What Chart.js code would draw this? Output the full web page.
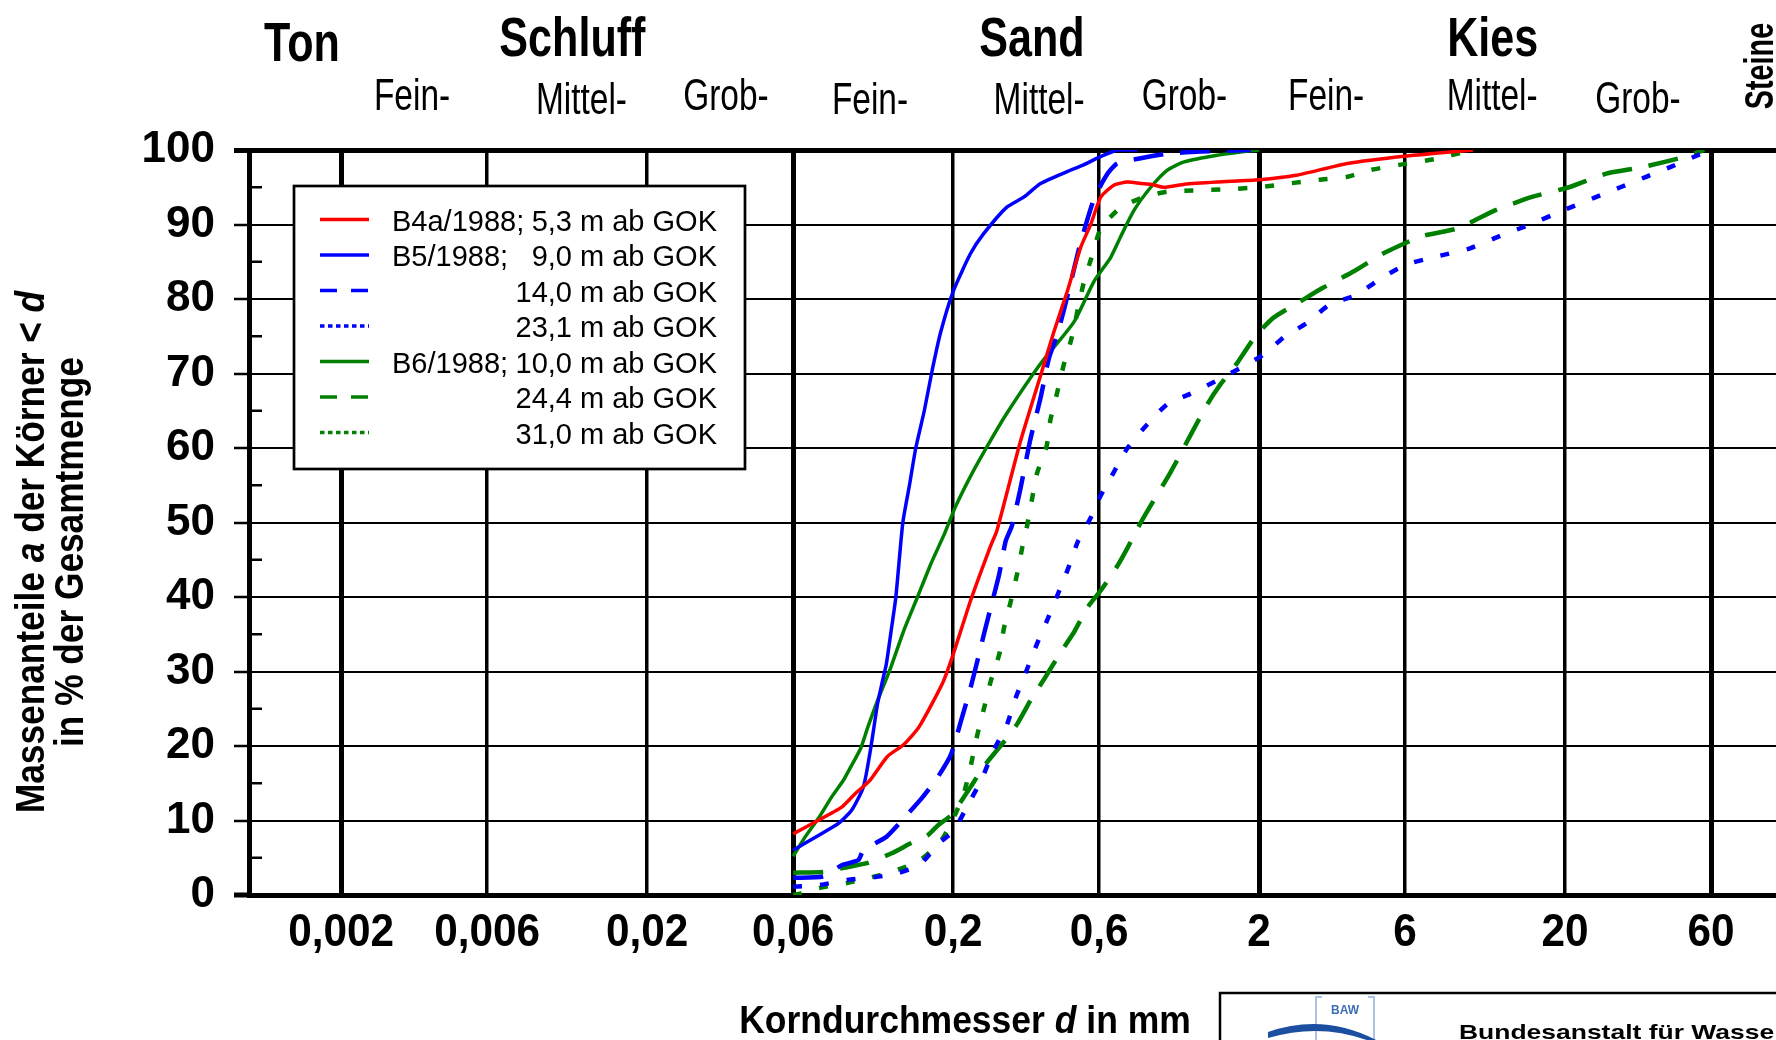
<!DOCTYPE html>
<html>
<head>
<meta charset="utf-8">
<script src="https://cdn.jsdelivr.net/npm/chart.js@4.4.1/dist/chart.umd.min.js"></script>
<style>
  html, body { margin: 0; padding: 0; background: #fff; overflow: hidden; }
  #wrap { width: 1800px; height: 1040px; }
</style>
</head>
<body>
<div id="wrap"><canvas id="c" width="1800" height="1040"></canvas></div>
<script>
// Körnungslinien: Korndurchmesser d [mm] / Massenanteil a [%]
var xTicks = [0.002, 0.006, 0.02, 0.06, 0.2, 0.6, 2, 6, 20, 60];
var yTicks = [0, 10, 20, 30, 40, 50, 60, 70, 80, 90, 100];

// B4a/1988; 5,3 m
var b4a53_d = [0.06, 0.0708, 0.0865, 0.0957, 0.107, 0.122, 0.138, 0.155, 0.185, 0.199, 0.228, 0.266, 0.278, 0.331, 0.386, 0.427, 0.472, 0.522, 0.563, 0.608, 0.672, 0.743, 0.822, 0.885, 0.979, 1.14, 1.46, 2.0, 2.64, 3.89, 6.07, 10.0];
var b4a53_p = [8.2, 9.8, 11.8, 13.6, 15.4, 18.6, 20.2, 22.6, 28.5, 32, 39.5, 47, 48.9, 60.7, 69.7, 75.6, 81, 86.9, 90, 93.7, 95.3, 95.7, 95.5, 95.4, 95.0, 95.4, 95.7, 96, 96.6, 98.2, 99.2, 100];
// B5/1988; 9,0 m
var b5_90_d = [0.06, 0.0726, 0.0844, 0.0933, 0.1018, 0.1076, 0.1132, 0.1175, 0.121, 0.126, 0.130, 0.137, 0.144, 0.151, 0.161, 0.171, 0.182, 0.2, 0.228, 0.251, 0.299, 0.341, 0.386, 0.472, 0.534, 0.591, 0.688, 0.8];
var b5_90_p = [6.0, 8.0, 9.6, 11.4, 14.5, 19.7, 25.6, 28.7, 31, 36, 40, 50, 55, 60, 65, 70.5, 75.5, 81, 86.1, 88.7, 92.3, 93.7, 95.5, 97.1, 98, 98.9, 100, 100];
// B5/1988; 14,0 m
var b5_140_d = [0.06, 0.0755, 0.0865, 0.098, 0.1018, 0.121, 0.136, 0.158, 0.178, 0.1965, 0.212, 0.228, 0.240, 0.2525, 0.2655, 0.283, 0.297, 0.311, 0.331, 0.357, 0.386, 0.411, 0.44, 0.478, 0.52, 0.578, 0.639, 0.688, 0.821, 1.003, 1.289, 1.88];
var b5_140_p = [2.3, 2.5, 4.0, 4.7, 6.0, 7.8, 10, 13, 15.8, 18.8, 23.3, 27.8, 31.4, 35.1, 38.6, 43.1, 47.5, 49.5, 54.3, 61, 66.7, 72, 75.5, 81.2, 87.3, 93.5, 96.8, 98.2, 98.9, 99.5, 99.8, 100];
// B5/1988; 23,1 m
var b5_231_d = [0.06, 0.072, 0.09, 0.125, 0.155, 0.18, 0.2, 0.223, 0.2476, 0.272, 0.2995, 0.3206, 0.348, 0.375, 0.405, 0.441, 0.475, 0.512, 0.561, 0.6, 0.671, 0.743, 0.863, 1.003, 1.196, 1.447, 1.73, 2.06, 2.43, 2.87, 3.41, 4.14, 4.89, 6.02, 7.61, 9.78, 12.48, 15.37, 19.45, 24.97, 30.3, 36.8, 44.7, 54.3, 57];
var b5_231_p = [1.1, 1.3, 2.0, 2.7, 4.0, 7.0, 8.5, 12, 15.5, 19.5, 22.8, 26.5, 30.2, 33.6, 36.8, 40.5, 43.8, 47.5, 50.5, 53.2, 56.8, 60, 63.2, 65.9, 67.3, 69, 70.7, 72.5, 75, 76.8, 79.3, 80.5, 82.5, 84.6, 85.7, 86.8, 88.6, 90, 91.8, 93.6, 95, 96.4, 97.8, 99.3, 99.6];
// B6/1988; 10,0 m
var b6_100_d = [0.06, 0.0657, 0.0726, 0.0803, 0.0876, 0.0926, 0.0998, 0.105, 0.113, 0.125, 0.138, 0.153, 0.169, 0.187, 0.204, 0.232, 0.265, 0.299, 0.386, 0.496, 0.578, 0.655, 0.706, 0.78, 0.885, 1.003, 1.138, 1.46, 1.88, 2.0];
var b6_100_p = [5.2, 7.8, 10.3, 13.2, 15.4, 17.2, 19.7, 22.4, 26, 30.5, 35.5, 40, 44.4, 48.4, 52.2, 56.8, 61, 64.6, 71.3, 76.9, 82.4, 85.6, 88.4, 91.9, 95, 97.3, 98.4, 99.3, 99.9, 100];
// B6/1988; 24,4 m
var b6_244_d = [0.06, 0.0755, 0.0865, 0.105, 0.126, 0.1447, 0.165, 0.179, 0.198, 0.228, 0.2525, 0.2935, 0.3245, 0.359, 0.397, 0.4497, 0.497, 0.55, 0.608, 0.689, 0.743, 0.821, 0.885, 1.029, 1.196, 1.356, 1.499, 1.695, 1.945, 2.23, 2.71, 3.20, 4.11, 5.14, 6.78, 8.94, 11.8, 15.6, 20.6, 27.1, 35.8, 47.3, 52.8, 57];
var b6_244_p = [3.0, 3.1, 3.6, 4.3, 5.6, 6.9, 8.0, 9.4, 10.8, 14.5, 17.3, 20.6, 23, 26.2, 29, 32.6, 35.3, 38.6, 40.9, 44.2, 46.6, 50, 52.3, 56.8, 61.8, 65.9, 68.6, 71.4, 75, 77.5, 79.6, 81.4, 83.8, 86.2, 88.4, 89.5, 91.9, 93.7, 95, 96.8, 97.7, 98.9, 99.5, 100];
// B6/1988; 31,0 m
var b6_310_d = [0.06, 0.0636, 0.072, 0.09, 0.104, 0.126, 0.155, 0.182, 0.2, 0.217, 0.228, 0.240, 0.2525, 0.2655, 0.283, 0.2935, 0.309, 0.3245, 0.337, 0.350, 0.362, 0.376, 0.404, 0.416, 0.438, 0.46, 0.486, 0.533, 0.566, 0.608, 0.707, 0.842, 1.003, 1.26, 1.53, 2.0, 2.5, 3.12, 3.89, 4.60, 5.74, 7.79, 9.46, 10];
var b6_310_p = [0.0, 0.2, 0.9, 1.6, 2.2, 3.1, 4.6, 7.2, 10.2, 13.7, 17.2, 21.5, 25.1, 28.7, 32.3, 35.9, 39.5, 43.3, 46.8, 49.8, 53.1, 56.6, 60.2, 63.8, 67.5, 71.2, 74.5, 82, 85.5, 89.5, 92.3, 93.7, 94.4, 94.6, 94.7, 95, 95.5, 96, 96.4, 97.3, 98, 98.9, 99.8, 100];

var legBore  = ["B4a/1988;", "B5/1988;", "", "", "B6/1988;", "", ""];
var legDepth = ["5,3 m ab GOK", "9,0 m ab GOK", "14,0 m ab GOK", "23,1 m ab GOK", "10,0 m ab GOK", "24,4 m ab GOK", "31,0 m ab GOK"];

// Bodenarten (Beschriftung oben, Lage in mm)
var mainNames = ["Ton", "Schluff", "Sand", "Kies"];
var mainAt    = [0.00149, 0.0114, 0.362, 11.6];
var subNames  = ["Fein-", "Mittel-", "Grob-", "Fein-", "Mittel-", "Grob-", "Fein-", "Mittel-", "Grob-"];
var subAt     = [0.00341, 0.0122, 0.0362, 0.107, 0.382, 1.14, 3.31, 11.55, 34.6];

var RED = "#FF0000", BLUE = "#0000FF", GREEN = "#008000";
var F = "'Liberation Sans', Arial, sans-serif";
var DASH = [30, 17], DOT = [9, 18];

function pts(d, p) { return d.map(function(x, i){ return { x: x, y: p[i] }; }); }
function ds(i, d, p, col, kind) {
  return {
    label: (legBore[i] ? legBore[i] + " " : "") + legDepth[i],
    data: pts(d, p), borderColor: col, backgroundColor: col,
    borderWidth: kind === "solid" ? 3.5 : 4.5,
    borderDash: kind === "dashed" ? DASH : (kind === "dotted" ? DOT : []),
    kind: kind, pointRadius: 0, fill: false, tension: 0.2
  };
}

var datasets = [
  ds(0, b4a53_d, b4a53_p, RED, "solid"),
  ds(1, b5_90_d, b5_90_p, BLUE, "solid"),
  ds(2, b5_140_d, b5_140_p, BLUE, "dashed"),
  ds(3, b5_231_d, b5_231_p, BLUE, "dotted"),
  ds(4, b6_100_d, b6_100_p, GREEN, "solid"),
  ds(5, b6_244_d, b6_244_p, GREEN, "dashed"),
  ds(6, b6_310_d, b6_310_p, GREEN, "dotted")
];

// Text schreiben, horizontal gestaucht (sx), Teile mit eigener Schrift
function put(ctx, parts, x, y, sx, align) {
  ctx.save();
  ctx.translate(x, y);
  ctx.scale(sx, 1);
  var w = 0;
  parts.forEach(function(p){ ctx.font = p[1]; w += ctx.measureText(p[0]).width; });
  var cx = align === "center" ? -w / 2 : (align === "right" ? -w : 0);
  ctx.textAlign = "left"; ctx.textBaseline = "alphabetic"; ctx.fillStyle = "#000";
  parts.forEach(function(p){ ctx.font = p[1]; ctx.fillText(p[0], cx, 0); cx += ctx.measureText(p[0]).width; });
  ctx.restore();
}
function putRot(ctx, parts, x, y, sx) {
  ctx.save();
  ctx.translate(x, y);
  ctx.rotate(-Math.PI / 2);
  put(ctx, parts, 0, 0, sx, "center");
  ctx.restore();
}
function fmtX(v) { return String(v).replace(".", ","); }

var deko = {
  id: "deko",
  afterDraw: function(chart) {
    var ctx = chart.ctx, xs = chart.scales.x, ys = chart.scales.y, a = chart.chartArea;

    // kleine Zwischenstriche innen an der y-Achse
    ctx.save();
    ctx.strokeStyle = "#000"; ctx.lineWidth = 2.5;
    for (var v = 5; v < 100; v += 10) {
      var yy = ys.getPixelForValue(v);
      ctx.beginPath(); ctx.moveTo(a.left, yy); ctx.lineTo(a.left + 13, yy); ctx.stroke();
    }
    ctx.restore();

    // x-Beschriftung
    xs.ticks.forEach(function(t){
      put(ctx, [[fmtX(t.value), "bold 47px " + F]], xs.getPixelForValue(t.value), 946, 0.9, "center");
    });

    // Bodenarten oben
    mainNames.forEach(function(n, i){
      put(ctx, [[n, "bold 56px " + F]], xs.getPixelForValue(mainAt[i]), i === 0 ? 61 : 56, 0.77, "center");
    });
    var subY = [110, 114, 110, 114, 114, 110, 110, 110, 113];
    subNames.forEach(function(n, i){
      put(ctx, [[n, "44px " + F]], xs.getPixelForValue(subAt[i]), subY[i], 0.76, "center");
    });
    putRot(ctx, [["Steine", "bold 40px " + F]], 1773, 66, 0.72);

    // Achsentitel
    var b = "bold 41px " + F, bi = "italic bold 41px " + F;
    putRot(ctx, [["Massenanteile ", b], ["a", bi], [" der Körner < ", b], ["d", bi]], 44, 552, 0.86);
    putRot(ctx, [["in % der Gesamtmenge", b]], 83, 552, 0.86);
    var bx = "bold 39px " + F, bxi = "italic bold 39px " + F;
    put(ctx, [["Korndurchmesser ", bx], ["d", bxi], [" in mm", bx]], 965, 1033, 0.91, "center");

    // Legende
    ctx.save();
    ctx.fillStyle = "#fff"; ctx.strokeStyle = "#000"; ctx.lineWidth = 2.7;
    ctx.fillRect(294, 186, 451, 283); ctx.strokeRect(294, 186, 451, 283);
    chart.data.datasets.forEach(function(d, i){
      var yy = 219.5 + i * 35.5;
      ctx.strokeStyle = d.borderColor; ctx.lineWidth = 3.5; ctx.lineCap = "butt";
      ctx.setLineDash(d.kind === "dashed" ? [17, 14] : (d.kind === "dotted" ? [4.5, 3.5] : []));
      ctx.beginPath(); ctx.moveTo(320, yy); ctx.lineTo(369, yy); ctx.stroke();
      ctx.setLineDash([]);
      ctx.fillStyle = "#000"; ctx.font = "29px " + F; ctx.textBaseline = "alphabetic";
      ctx.textAlign = "left"; if (legBore[i]) ctx.fillText(legBore[i], 392, yy + 11);
      ctx.textAlign = "right"; ctx.fillText(legDepth[i], 717, yy + 11);
    });
    ctx.restore();

    // Fusszeile mit BAW-Logo (rechts abgeschnitten)
    ctx.save();
    ctx.strokeStyle = "#000"; ctx.lineWidth = 2.5;
    ctx.strokeRect(1220, 993, 700, 200);
    ctx.strokeStyle = "#a9c3e3"; ctx.lineWidth = 2;
    ctx.beginPath();
    ctx.moveTo(1322, 997); ctx.lineTo(1316, 997); ctx.lineTo(1316, 1040);
    ctx.moveTo(1368, 997); ctx.lineTo(1374, 997); ctx.lineTo(1374, 1040);
    ctx.stroke();
    ctx.fillStyle = "#3d6fb5"; ctx.font = "bold 12px " + F; ctx.textAlign = "center";
    ctx.fillText("BAW", 1345, 1014);
    ctx.fillStyle = "#1c4fa0";
    ctx.beginPath();
    ctx.moveTo(1268, 1032);
    ctx.quadraticCurveTo(1325, 1012, 1380, 1042);
    ctx.lineTo(1372, 1042);
    ctx.quadraticCurveTo(1322, 1022, 1268, 1038);
    ctx.closePath(); ctx.fill();
    ctx.restore();
    put(ctx, [["Bundesanstalt für Wasserbau", "bold 21px " + F]], 1459, 1039, 1.26, "left");
  }
};

new Chart(document.getElementById("c"), {
  type: "line",
  data: { datasets: datasets },
  plugins: [deko],
  options: {
    responsive: false, animation: false, devicePixelRatio: 1,
    layout: { padding: { top: 150, right: 21, left: 0, bottom: 0 } },
    plugins: { legend: { display: false }, tooltip: { enabled: false } },
    scales: {
      x: {
        type: "logarithmic", min: 0.001, max: 100,
        afterBuildTicks: function(s){ s.ticks = xTicks.map(function(v){ return { value: v }; }); },
        afterFit: function(s){ s.height = 145; },
        ticks: { display: false, autoSkip: false },
        grid: {
          color: "#000", drawTicks: false,
          lineWidth: function(c){ return [0.002, 0.06, 2, 60].indexOf(c.tick && c.tick.value) >= 0 ? 5 : 3.5; }
        },
        border: { color: "#000", width: 5 }
      },
      y: {
        type: "linear", min: 0, max: 100,
        afterBuildTicks: function(s){ s.ticks = yTicks.map(function(v){ return { value: v }; }); },
        afterFit: function(s){ s.width = 249; },
        ticks: { color: "#000", padding: 19, font: { family: "'Liberation Sans', Arial, sans-serif", weight: "bold", size: 44 } },
        grid: {
          color: "#000", tickColor: "#000", tickLength: 15,
          lineWidth: function(c){ var v = c.tick && c.tick.value; return v === 100 ? 5 : (v === 0 ? 0 : 2); },
          tickWidth: function(c){ var v = c.tick && c.tick.value; return v === 100 || v === 0 ? 5 : 2.5; }
        },
        border: { color: "#000", width: 5 }
      }
    }
  }
});
</script>
</body>
</html>
